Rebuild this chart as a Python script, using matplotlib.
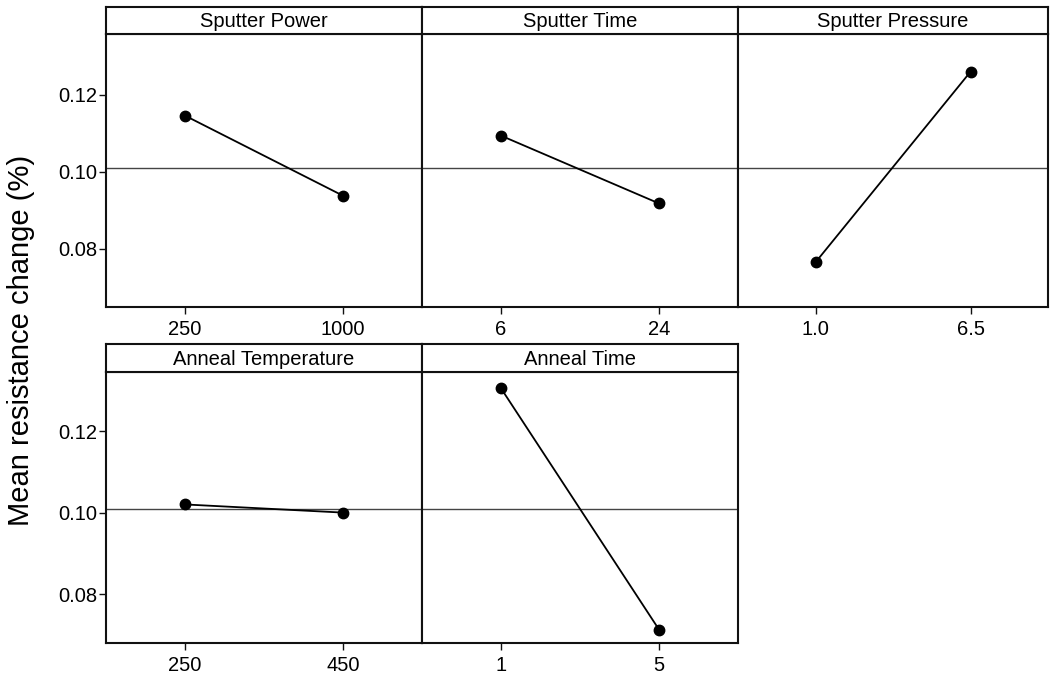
import matplotlib
matplotlib.use("Agg")
import matplotlib.pyplot as plt

plt.rcParams['font.family'] = ['Liberation Sans', 'DejaVu Sans']

# Factor names, level labels and mean responses at each level
factors = ["Sputter Power", "Sputter Time", "Sputter Pressure",
           "Anneal Temperature", "Anneal Time"]
levels = [["250", "1000"], ["6", "24"], ["1.0", "6.5"], ["250", "450"], ["1", "5"]]
sputter_power = [0.1146, 0.0938]
sputter_time = [0.1094, 0.0918]
sputter_pressure = [0.0765, 0.1260]
anneal_temperature = [0.1020, 0.1000]
anneal_time = [0.1305, 0.0713]
means = [sputter_power, sputter_time, sputter_pressure,
         anneal_temperature, anneal_time]
grand_mean = 0.1010
y_ticks = [0.08, 0.10, 0.12]
y_tick_labels = ["0.08", "0.10", "0.12"]

W, H = 1050, 684
fig = plt.figure(figsize=(W / 100, H / 100), dpi=100)

col_x = [106, 422, 738]
col_w = [316, 316, 310]
rows = [dict(strip_top=7, plot_top=34, plot_bot=307, ylim=(0.0649, 0.1358)),
        dict(strip_top=344, plot_top=372, plot_bot=643, ylim=(0.0680, 0.1345))]
frame_c = "#111111"
frame_lw = 1.5
tick_fs = 14.5
strip_fs = 14.5


def fig_rect(x0, y0, x1, y1):
    return [x0 / W, 1 - y1 / H, (x1 - x0) / W, (y1 - y0) / H]


for i, name in enumerate(factors):
    r, c = divmod(i, 3)
    row = rows[r]
    x0 = col_x[c]
    x1 = x0 + col_w[c]

    ax = fig.add_axes(fig_rect(x0, row["plot_top"], x1, row["plot_bot"]))
    pos = [1, 2]
    ax.axhline(grand_mean, color="#444444", lw=1.0, zorder=1)
    ax.plot(pos, means[i], color="black", lw=1.3, marker="o",
            markersize=7.5, zorder=3)
    ax.set_xlim(0.5, 2.5)
    ax.set_ylim(*row["ylim"])
    ax.set_xticks(pos)
    ax.set_xticklabels(levels[i], fontsize=tick_fs)
    ax.tick_params(axis="x", direction="out", length=5, width=1.0,
                   color=frame_c, pad=4.5)
    if c == 0:
        ax.set_yticks(y_ticks)
        ax.set_yticklabels(y_tick_labels, fontsize=tick_fs)
        ax.tick_params(axis="y", direction="out", length=5, width=1.0,
                       color=frame_c, pad=1.5)
    else:
        ax.set_yticks([])
    for s in ax.spines.values():
        s.set_color(frame_c)
        s.set_linewidth(frame_lw)

    strip = fig.add_axes(fig_rect(x0, row["strip_top"], x1, row["plot_top"]))
    strip.set_xticks([])
    strip.set_yticks([])
    for s in strip.spines.values():
        s.set_color(frame_c)
        s.set_linewidth(frame_lw)
    strip.text(0.5, 0.45, name, ha="center", va="center", fontsize=strip_fs,
               transform=strip.transAxes)

fig.text(21 / W, 1 - 340 / H, "Mean resistance change (%)", rotation=90,
         ha="center", va="center", fontsize=21)

fig.savefig("out.png", dpi=100)
